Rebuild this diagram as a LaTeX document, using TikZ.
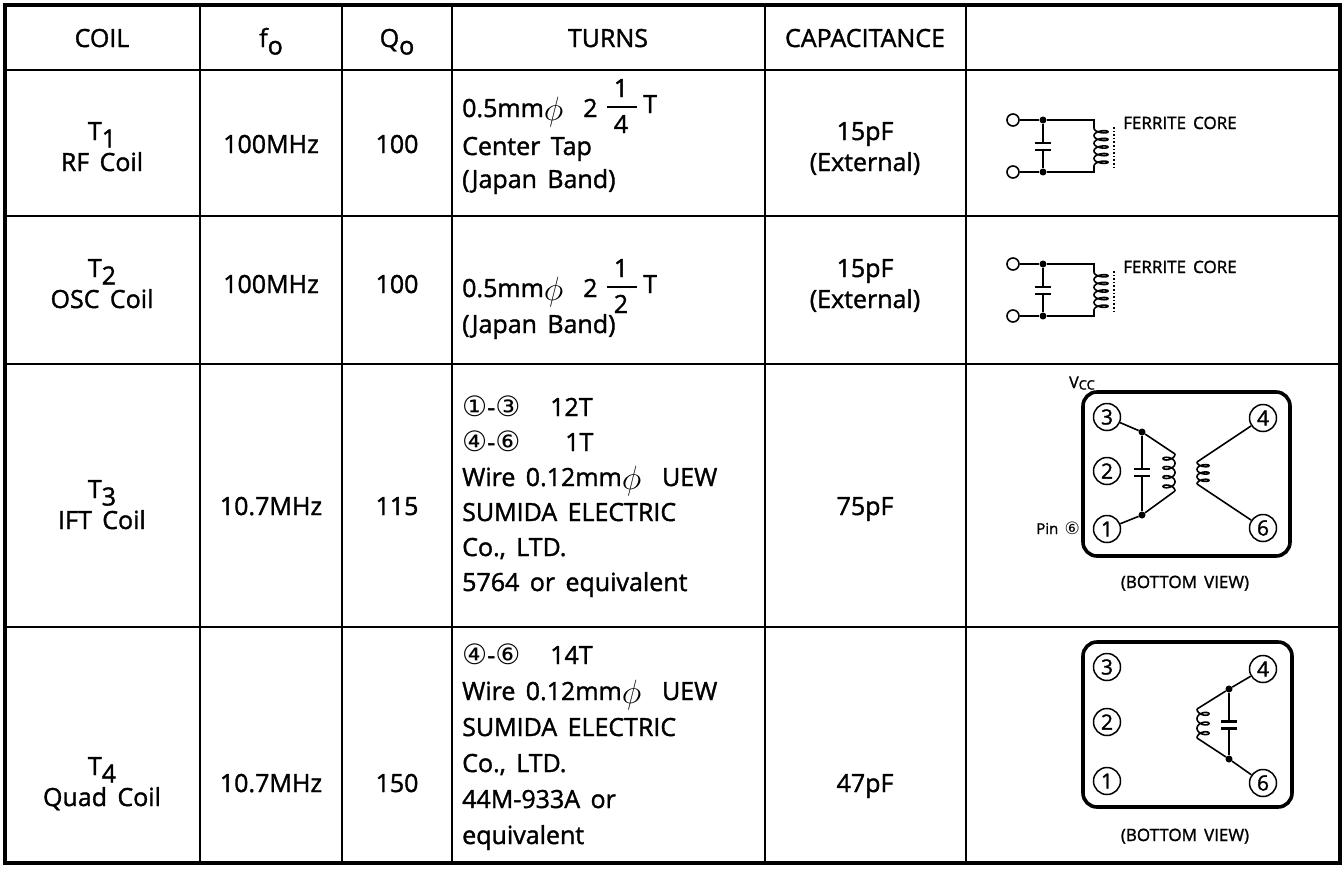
\documentclass[tikz,border=0pt]{standalone}
\usepackage{graphicx}
\usepackage{fontspec}
\setmainfont{Open Sans}[WordSpace=1.6, FakeBold=1.4]
\newfontfamily\dejavu{DejaVu Sans}
\newcommand\lowsub[1]{\raisebox{-0.3em}{#1}}
\newcommand\dia{\raisebox{-0.12em}{\scalebox{1.35}{$\phi$}}}
\newcommand\cd[1]{{\dejavu\fontsize{28}{28}\selectfont #1}}
% coil: x0, y0, y1, loops, side(+1/-1), width, samples
\newcommand\coilplot[7]{%
  \draw[wire] plot[domain=0:#4*360, samples=#7, smooth, variable=\t]
    ({(#1) + (#5)*(#6)/2*(1-cos(\t))}, {(#2) + ((#3)-(#2))/(#4)*(\t/360) + 0.36*((#3)-(#2))/(#4)*sin(\t)});}
\tikzset{
  txt/.style={anchor=base, inner sep=0pt, font=\fontsize{25}{30}\selectfont},
  ltxt/.style={txt, anchor=base west},
  gridline/.style={line width=1.8pt},
  frameline/.style={line width=3.8pt},
  fracbar/.style={line width=1.8pt},
  pin/.style={circle, draw, line width=1.5pt, minimum size=27pt, inner sep=0pt, font=\fontsize{21}{21}\selectfont},
  jdot/.style={circle, fill, inner sep=0pt, minimum size=7pt},
  term/.style={circle, draw, line width=1.6pt, minimum size=12pt, inner sep=0pt},
  wire/.style={line width=1.6pt},
  plate/.style={line width=2.8pt},
  pkg/.style={line width=3.6pt, rounded corners=14pt},
  small/.style={anchor=base, inner sep=0pt, font=\fontsize{17}{17}\selectfont},
}
% ferrite-core tank icon: #1 = suffix, #2 = vertical offset
\newcommand\ferriteicon[2]{%
  \node[term] (ta#1) at (1013,120+#2) {};
  \node[term] (tb#1) at (1013,172+#2) {};
  \node[jdot] (ja#1) at (1043,120+#2) {};
  \node[jdot] (jb#1) at (1043,172+#2) {};
  \coordinate (ka#1) at (1094,120+#2);
  \coordinate (kb#1) at (1094,172+#2);
  \coordinate (la#1) at (1094,128+#2);
  \coordinate (lb#1) at (1094,166+#2);
  \coordinate (ca#1) at (1043,143+#2);
  \coordinate (cb#1) at (1043,150+#2);
  \draw[wire] (ta#1) -- (ja#1) -- (ka#1) -- (la#1);
  \draw[wire] (tb#1) -- (jb#1) -- (kb#1) -- (lb#1);
  \coilplot{1094}{128+#2}{166+#2}{5}{1}{14}{201}
  \draw[line width=1.6pt, dotted] (1114,127+#2) -- (1114,168+#2);
  \draw[wire] (ja#1) -- (ca#1);
  \draw[wire] (cb#1) -- (jb#1);
  \draw[plate] (1035,143+#2) -- (1051,143+#2);
  \draw[plate] (1035,150+#2) -- (1051,150+#2);
  \node[small, anchor=base west] (fc#1) at (1123,129+#2) {FERRITE CORE};
}
% "0.5mm dia 2 n/d T": #1 suffix, #2 baseline, #3 denominator
\newcommand\wireline[3]{%
  \node[ltxt] (wa#1) at (462,#2) {0.5mm\dia};
  \node[ltxt] (wn#1) at (583,#2) {2};
  \node[txt] (wu#1) at (621,#2-20) {1};
  \node[txt] (wd#1) at (621,#2+16) {#3};
  \coordinate (wl#1) at (607,#2-10);
  \coordinate (wr#1) at (637,#2-10);
  \draw[fracbar] (wl#1) -- (wr#1);
  \node[ltxt] (wt#1) at (643,#2-4) {T};
}
\begin{document}
\begin{tikzpicture}[x=1pt,y=-1pt]
\useasboundingbox (0,0) rectangle (1344,868);
\fill[white] (0,0) rectangle (1344,868);
% grid
\foreach \xx in {200,342,452,765,966} \draw[gridline] (\xx,5) -- (\xx,863);
\foreach \yy in {70,216,364,627} \draw[gridline] (5,\yy) -- (1340,\yy);
\draw[frameline] (5,5) rectangle (1340,863);
% header
\node[txt] (h1) at (102,47) {COIL};
\node[txt] (h2) at (271,47) {f\lowsub{o}};
\node[txt] (h3) at (397,47) {Q\lowsub{o}};
\node[txt] (h4) at (608,47) {TURNS};
\node[txt] (h5) at (865,47) {CAPACITANCE};
% row 1
\node[txt] (c1a) at (102,140) {T\lowsub{1}};
\node[txt] (c1b) at (102,171) {RF Coil};
\node[txt] (f1) at (271,153) {100MHz};
\node[txt] (q1) at (397,153) {100};
\wireline{1}{117}{4}
\node[ltxt] (t1b) at (462,155) {Center Tap};
\node[ltxt] (t1c) at (462,188) {(Japan Band)};
\node[txt] (k1a) at (865,140) {15pF};
\node[txt] (k1b) at (865,171) {(External)};
\ferriteicon{1}{0}
% row 2
\node[txt] (c2a) at (102,277) {T\lowsub{2}};
\node[txt] (c2b) at (102,308) {OSC Coil};
\node[txt] (f2) at (271,293) {100MHz};
\node[txt] (q2) at (397,293) {100};
\wireline{2}{297}{2}
\node[ltxt] (t2b) at (462,333) {(Japan Band)};
\node[txt] (k2a) at (865,277) {15pF};
\node[txt] (k2b) at (865,308) {(External)};
\ferriteicon{2}{144}
% row 3
\node[txt] (c3a) at (102,498) {T\lowsub{3}};
\node[txt] (c3b) at (102,529) {IFT Coil};
\node[txt] (f3) at (271,515) {10.7MHz};
\node[txt] (q3) at (397,515) {115};
\node[ltxt] (t3a) at (462,416) {\makebox[88pt][l]{\cd{①}-\cd{③}}12T};
\node[ltxt] (t3b) at (462,451) {\makebox[103pt][l]{\cd{④}-\cd{⑥}}1T};
\node[ltxt] (t3c) at (462,486) {Wire 0.12mm\dia\ \ UEW};
\node[ltxt] (t3d) at (462,521) {SUMIDA ELECTRIC};
\node[ltxt] (t3e) at (462,556) {Co., LTD.};
\node[ltxt] (t3f) at (462,591) {5764 or equivalent};
\node[txt] (k3) at (865,515) {75pF};
% T3 icon
\draw[pkg] (1083,392) rectangle (1290,556);
\node[pin] (a3) at (1107,417) {3};
\node[pin] (a2) at (1107,471) {2};
\node[pin] (a1) at (1107,529) {1};
\node[pin] (a4) at (1263,418) {4};
\node[pin] (a6) at (1263,528) {6};
\node[jdot] (da) at (1142,432) {};
\node[jdot] (db) at (1142,515) {};
\coordinate (cpa) at (1142,469);
\coordinate (cpb) at (1142,476);
\coordinate (sa) at (1175,454);
\coordinate (sb) at (1175,491);
\coordinate (ua) at (1197,462);
\coordinate (ub) at (1197,484);
\draw[wire] (a3) -- (da) -- (sa);
\draw[wire] (a1) -- (db) -- (sb);
\coilplot{1175}{454}{491}{4}{-1}{12}{161}
\draw[wire] (da) -- (cpa);
\draw[wire] (cpb) -- (db);
\draw[plate] (1134,469) -- (1150,469);
\draw[plate] (1134,476) -- (1150,476);
\draw[wire] (a4) -- (ua);
\draw[wire] (a6) -- (ub);
\coilplot{1197}{462}{484}{3}{1}{12}{121}
\node[inner sep=0pt, anchor=base] (vcc) at (1082,388) {\fontsize{16}{16}\selectfont V\raisebox{-0.1em}{\fontsize{13}{13}\selectfont CC}};
\node[inner sep=0pt, anchor=base east] (pin6) at (1080,534) {\fontsize{15}{15}\selectfont Pin {\dejavu\fontsize{17}{17}\selectfont ⑥}};
\node[small] (bv3) at (1185,588) {(BOTTOM VIEW)};
% row 4
\node[txt] (c4a) at (102,775) {T\lowsub{4}};
\node[txt] (c4b) at (102,806) {Quad Coil};
\node[txt] (f4) at (271,792) {10.7MHz};
\node[txt] (q4) at (397,792) {150};
\node[ltxt] (t4a) at (462,664) {\makebox[88pt][l]{\cd{④}-\cd{⑥}}14T};
\node[ltxt] (t4b) at (462,700) {Wire 0.12mm\dia\ \ UEW};
\node[ltxt] (t4c) at (462,736) {SUMIDA ELECTRIC};
\node[ltxt] (t4d) at (462,772) {Co., LTD.};
\node[ltxt] (t4e) at (462,808) {44M-933A or};
\node[ltxt] (t4f) at (462,844) {equivalent};
\node[txt] (k4) at (865,792) {47pF};
% T4 icon
\draw[pkg] (1083,642) rectangle (1292,807);
\node[pin] (b3) at (1107,667) {3};
\node[pin] (b2) at (1107,722) {2};
\node[pin] (b1) at (1107,781) {1};
\node[pin] (b4) at (1263,669) {4};
\node[pin] (b6) at (1263,783) {6};
\node[jdot] (ea) at (1229,689) {};
\node[jdot] (eb) at (1229,759) {};
\coordinate (epa) at (1229,721.5);
\coordinate (epb) at (1229,728.5);
\coordinate (wa) at (1197,709);
\coordinate (wb) at (1197,738);
\draw[wire] (b4) -- (ea) -- (wa);
\draw[wire] (b6) -- (eb) -- (wb);
\coilplot{1197}{709}{738}{3}{1}{12}{121}
\draw[wire] (ea) -- (epa);
\draw[wire] (epb) -- (eb);
\draw[plate] (1221,721.5) -- (1237,721.5);
\draw[plate] (1221,728.5) -- (1237,728.5);
\node[small] (bv4) at (1185,841) {(BOTTOM VIEW)};
\end{tikzpicture}
\end{document}
